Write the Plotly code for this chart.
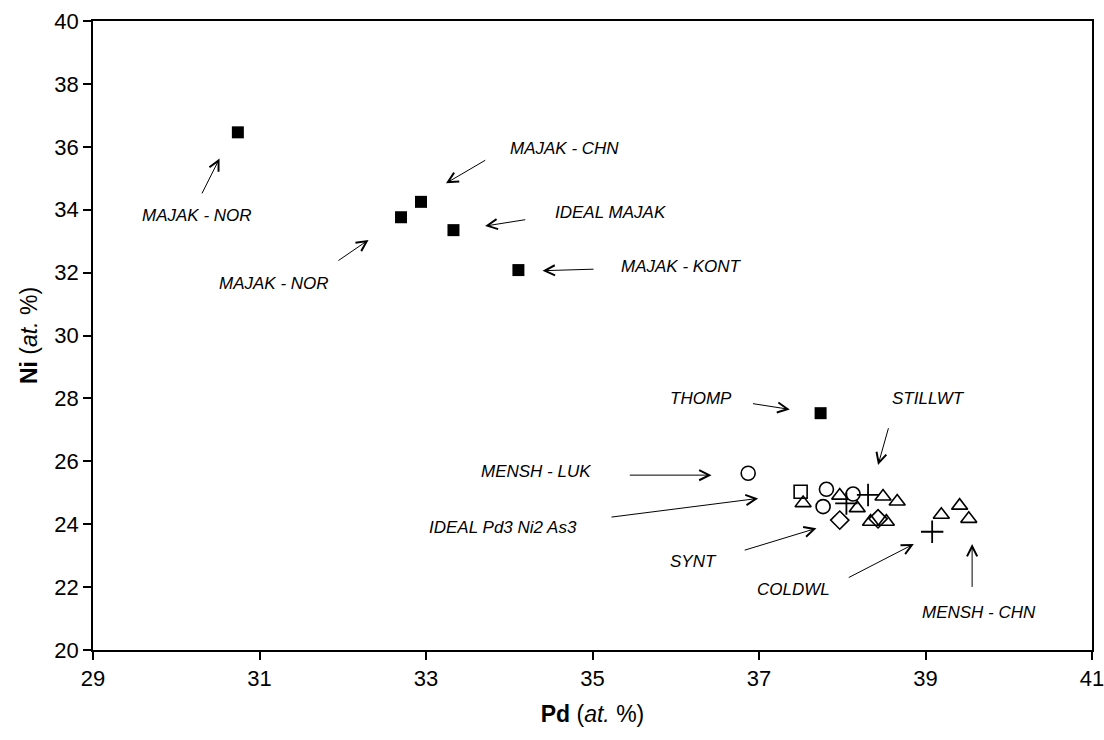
import plotly.graph_objects as go

# ---- data (Pd at.%, Ni at.%) ----
majak_x = [30.74, 32.70, 32.94, 33.33, 34.11, 37.74]
majak_y = [36.46, 33.76, 34.25, 33.35, 32.08, 27.53]

circle_x = [36.87, 37.81, 37.77, 38.13]
circle_y = [25.62, 25.11, 24.56, 24.96]

square_x = [37.50]
square_y = [25.03]

tri_x = [37.53, 37.97, 38.18, 38.49, 38.66, 38.34, 38.53, 39.19, 39.41, 39.52]
tri_y = [24.67, 24.91, 24.51, 24.88, 24.72, 24.08, 24.08, 24.30, 24.59, 24.17]

diamond_x = [37.97, 38.43]
diamond_y = [24.13, 24.17]

plus_x = [38.05, 38.31, 39.08]
plus_y = [24.66, 24.93, 23.76]

x_ticks = [29, 31, 33, 35, 37, 39, 41]
y_ticks = [20, 22, 24, 26, 28, 30, 32, 34, 36, 38, 40]

# ---- labels: text, text position ----
labels = [
    ("MAJAK - NOR", 30.25, 33.80),
    ("MAJAK - NOR", 31.18, 31.64),
    ("MAJAK - CHN", 34.66, 35.96),
    ("IDEAL MAJAK", 35.22, 33.90),
    ("MAJAK - KONT", 36.07, 32.19),
    ("THOMP", 36.30, 28.01),
    ("STILLWT", 39.04, 28.01),
    ("MENSH - LUK", 34.32, 25.66),
    ("IDEAL Pd3 Ni2 As3", 33.92, 23.91),
    ("SYNT", 36.21, 22.80),
    ("COLDWL", 37.41, 21.91),
    ("MENSH - CHN", 39.64, 21.20),
]
# ---- arrows: tail x, tail y, head x, head y ----
arrows = [
    (30.30, 34.47, 30.52, 35.63),
    (31.93, 32.35, 32.31, 33.04),
    (33.73, 35.60, 33.24, 34.84),
    (34.21, 33.69, 33.71, 33.48),
    (35.03, 32.11, 34.40, 32.06),
    (36.91, 27.84, 37.37, 27.65),
    (38.56, 27.10, 38.43, 25.88),
    (35.43, 25.56, 36.43, 25.56),
    (35.21, 24.22, 36.99, 24.82),
    (36.81, 23.16, 37.69, 23.87),
    (38.06, 22.28, 38.86, 23.37),
    (39.56, 21.96, 39.56, 23.37),
]

FONT = "Liberation Sans, Arial, sans-serif"

fig = go.Figure()

def add(xs, ys, symbol, size, lw=1.6):
    fig.add_trace(go.Scatter(
        x=xs, y=ys, mode="markers", showlegend=False, hoverinfo="skip",
        cliponaxis=False,
        marker=dict(symbol=symbol, size=size, color="black",
                    line=dict(color="black", width=lw)),
    ))

add(square_x, square_y, "square-open", 13)
add(tri_x, tri_y, "triangle-up-open", 14)
add(circle_x, circle_y, "circle-open", 14)
add(diamond_x, diamond_y, "diamond-open", 14)
add(plus_x, plus_y, "cross-thin-open", 16, lw=1.8)
add(majak_x, majak_y, "square", 12, lw=0)

for (t, tx, ty) in labels:
    fig.add_annotation(x=tx, y=ty, text="<i>%s</i>" % t, showarrow=False,
                       font=dict(family=FONT, size=17, color="black"),
                       xanchor="center", yanchor="middle")
for (ax_, ay_, hx, hy) in arrows:
    fig.add_annotation(x=hx, y=hy, ax=ax_, ay=ay_, axref="x", ayref="y",
                       text="", showarrow=True, arrowhead=5, arrowsize=2,
                       arrowwidth=1, arrowcolor="black", standoff=0)

fig.update_layout(
    width=1104, height=740,
    margin=dict(l=93, r=12, t=21, b=90, autoexpand=False),
    paper_bgcolor="white", plot_bgcolor="white",
    font=dict(family=FONT, color="black", size=22),
    xaxis=dict(range=[29, 41], tickvals=x_ticks, ticks="outside", ticklen=8,
               tickwidth=1.5, tickcolor="black", showgrid=False, zeroline=False,
               showline=True, linecolor="black", linewidth=1.5, mirror=True,
               tickfont=dict(size=22), automargin=False, ticklabeloverflow="allow",
               title=dict(text="<b>Pd</b> (<i>at.</i> %)", font=dict(size=23), standoff=16)),
    yaxis=dict(range=[20, 40], tickvals=y_ticks, ticks="outside", ticklen=8,
               tickwidth=1.5, tickcolor="black", showgrid=False, zeroline=False,
               showline=True, linecolor="black", linewidth=1.5, mirror=True,
               tickfont=dict(size=22), automargin=False, ticklabeloverflow="allow",
               title=dict(text="<b>Ni</b> (<i>at.</i> %)", font=dict(size=23), standoff=10)),
)

fig.write_html("out.html")
